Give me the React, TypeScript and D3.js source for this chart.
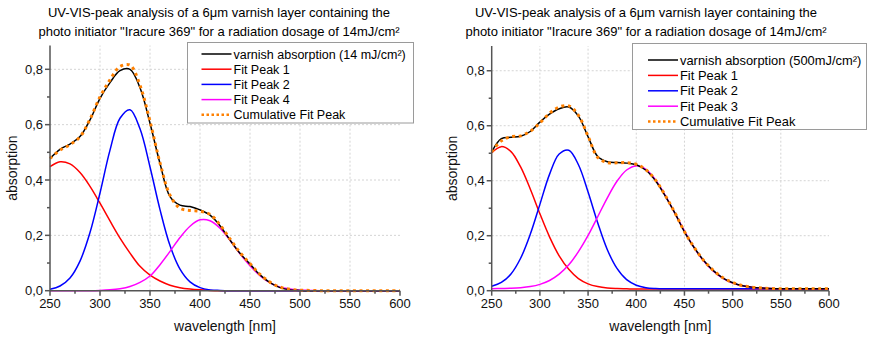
import React from 'react';
import * as d3 from 'd3';

const wavelengths = [250,260,270,280,290,300,310,320,330,340,350,360,370,380,390,400,410,420,430,440,450,460,470,480,490,500,510,520,530,540,550,560,570,580,590,600];

// left panel (14 mJ/cm²)
const leftMeasured = [0.478,0.511,0.530,0.557,0.617,0.695,0.752,0.795,0.800,0.733,0.605,0.460,0.340,0.309,0.304,0.292,0.273,0.235,0.183,0.135,0.096,0.057,0.029,0.011,0.003,0.001,0,0,0,0,0,0,0,0,0,0];
const leftPeak1 = [0.448,0.466,0.458,0.427,0.377,0.316,0.252,0.190,0.136,0.088,0.056,0.035,0.020,0.011,0.006,0.003,0.001,0,0,0,0,0,0,0,0,0,0,0,0,0,0,0,0,0,0,0];
const leftPeak2 = [0.005,0.017,0.046,0.107,0.210,0.353,0.508,0.623,0.654,0.585,0.447,0.293,0.163,0.078,0.032,0.011,0.003,0.001,0,0,0,0,0,0,0,0,0,0,0,0,0,0,0,0,0,0];
const leftPeak4 = [0,0,0,0,0,0.001,0.003,0.007,0.015,0.030,0.053,0.094,0.142,0.192,0.233,0.256,0.253,0.226,0.182,0.133,0.090,0.054,0.028,0.013,0.006,0.002,0.001,0,0,0,0,0,0,0,0,0];
const leftCumulative = [0.478,0.508,0.528,0.556,0.620,0.700,0.762,0.810,0.815,0.742,0.612,0.462,0.345,0.298,0.290,0.287,0.276,0.238,0.187,0.138,0.098,0.059,0.031,0.013,0.005,0.002,0.001,0,0,0,0,0,0,0,0,0];

// right panel (500 mJ/cm²)
const rightMeasured = [0.505,0.553,0.558,0.562,0.579,0.613,0.642,0.662,0.668,0.635,0.560,0.488,0.469,0.466,0.464,0.458,0.438,0.400,0.345,0.283,0.214,0.157,0.110,0.073,0.046,0.029,0.018,0.013,0.010,0.008,0.007,0.007,0.007,0.007,0.007,0.007];
const rightPeak1 = [0.502,0.524,0.506,0.450,0.370,0.280,0.196,0.127,0.078,0.044,0.025,0.015,0.010,0.008,0.007,0.006,0.006,0.006,0.006,0.006,0.006,0.006,0.006,0.006,0.006,0.006,0.006,0.006,0.006,0.006,0.006,0.006,0.006,0.006,0.006,0.006];
const rightPeak2 = [0.016,0.030,0.061,0.118,0.205,0.314,0.423,0.497,0.511,0.458,0.359,0.247,0.149,0.081,0.040,0.020,0.011,0.008,0.007,0.007,0.007,0.007,0.007,0.007,0.007,0.007,0.007,0.007,0.007,0.007,0.007,0.007,0.007,0.007,0.007,0.007];
const rightPeak3 = [0.007,0.008,0.009,0.011,0.015,0.023,0.037,0.060,0.094,0.142,0.201,0.269,0.338,0.398,0.439,0.454,0.441,0.403,0.347,0.282,0.217,0.157,0.108,0.071,0.045,0.028,0.018,0.013,0.010,0.008,0.007,0.007,0.007,0.007,0.007,0.007];
const rightCumulative = [0.505,0.545,0.560,0.563,0.580,0.610,0.645,0.668,0.672,0.638,0.562,0.485,0.466,0.465,0.466,0.460,0.440,0.402,0.347,0.284,0.215,0.158,0.110,0.074,0.047,0.030,0.019,0.013,0.010,0.008,0.007,0.007,0.007,0.007,0.007,0.007];

const xMajorTicks = [250,300,350,400,450,500,550,600];
const xMinorTicks = [275,325,375,425,475,525,575];
const yMajorTicks = [0,0.2,0.4,0.6,0.8];
const yMinorTicks = [0.1,0.3,0.5,0.7];

const titleLine1 = 'UV-VIS-peak analysis of a 6\u03bcm varnish layer containing the';
const titleLine2 = 'photo initiator "Iracure 369" for a radiation dosage of 14mJ/cm\u00b2';

const leftLegend = ['varnish absorption (14 mJ/cm\u00b2)','Fit Peak 1','Fit Peak 2','Fit Peak 4','Cumulative Fit Peak'];
const rightLegend = ['varnish absorption (500mJ/cm\u00b2)','Fit Peak 1','Fit Peak 2','Fit Peak 3','Cumulative Fit Peak'];

const FONT = '"Liberation Sans", Arial, sans-serif';
const ORANGE = '#FF8000';

type PanelProps = {
  x0: number; x1: number; yBottom: number; yTop: number; yMax: number;
  series: number[][];
  legendLabels: string[];
  legendBox: { x: number; y: number; w: number; h: number; first: number; step: number; lineX: number; font: number };
  titleX: number;
  yTitleX: number;
};

function Panel({ x0, x1, yBottom, yTop, yMax, series, legendLabels, legendBox, titleX, yTitleX }: PanelProps) {
  const x = d3.scaleLinear().domain([250, 600]).range([x0, x1]);
  const y = d3.scaleLinear().domain([0, yMax]).range([yBottom, yTop]);
  const line = d3.line<number>()
    .x((_, i) => x(wavelengths[i]))
    .y((d) => y(d))
    .curve(d3.curveCatmullRom.alpha(0.5));
  const colors = ['#000000', '#FF0000', '#0000FF', '#FF00FF', ORANGE];
  const axisColor = '#555';
  const fmt = (v: number) => v.toFixed(1).replace('.', ',');
  const order = [1, 2, 3, 0, 4];
  return (
    <g>
      <text x={titleX} y={17} textAnchor="middle" fontFamily={FONT} fontSize={13} fill="#000">{titleLine1}</text>
      <text x={titleX} y={36} textAnchor="middle" fontFamily={FONT} fontSize={13} fill="#000">{titleLine2}</text>
      {xMajorTicks.filter((t) => t > 250 && t < 600).map((t) => (
        <line key={'gx' + t} x1={x(t)} x2={x(t)} y1={yBottom} y2={yTop} stroke="#d4d4d4" strokeWidth={1} strokeDasharray="2 2" />
      ))}
      {yMajorTicks.filter((t) => t > 0).map((t) => (
        <line key={'gy' + t} x1={x0} x2={x1} y1={y(t)} y2={y(t)} stroke="#d4d4d4" strokeWidth={1} strokeDasharray="2 2" />
      ))}
      {order.map((si) => (
        <path key={'s' + si} d={line(series[si]) || ''} fill="none" stroke={colors[si]}
          strokeWidth={si === 4 ? 3 : 1.5}
          strokeDasharray={si === 4 ? '3 3.6' : undefined} />
      ))}
      <line x1={x0} x2={x1} y1={yBottom} y2={yBottom} stroke={axisColor} strokeWidth={1.5} />
      <line x1={x0} x2={x0} y1={yBottom} y2={yTop} stroke={axisColor} strokeWidth={1.5} />
      {xMajorTicks.map((t) => (
        <g key={'xt' + t}>
          <line x1={x(t)} x2={x(t)} y1={yBottom} y2={yBottom + 5} stroke={axisColor} strokeWidth={1.5} />
          <text x={x(t)} y={yBottom + 17.5} textAnchor="middle" fontFamily={FONT} fontSize={13} fill="#111">{t}</text>
        </g>
      ))}
      {xMinorTicks.map((t) => (
        <line key={'xm' + t} x1={x(t)} x2={x(t)} y1={yBottom} y2={yBottom + 3} stroke={axisColor} strokeWidth={1.5} />
      ))}
      {yMajorTicks.map((t) => (
        <g key={'yt' + t}>
          <line x1={x0 - 5} x2={x0} y1={y(t)} y2={y(t)} stroke={axisColor} strokeWidth={1.5} />
          <text x={x0 - 7} y={y(t) + 4.5} textAnchor="end" fontFamily={FONT} fontSize={13} fill="#111">{fmt(t)}</text>
        </g>
      ))}
      {yMinorTicks.map((t) => (
        <line key={'ym' + t} x1={x0 - 3} x2={x0} y1={y(t)} y2={y(t)} stroke={axisColor} strokeWidth={1.5} />
      ))}
      <text x={(x0 + x1) / 2} y={331} textAnchor="middle" fontFamily={FONT} fontSize={14} fill="#111">wavelength [nm]</text>
      <text transform={`translate(${yTitleX},${(yBottom + yTop) / 2}) rotate(-90)`} textAnchor="middle" fontFamily={FONT} fontSize={14} fill="#111">absorption</text>
      <rect x={legendBox.x} y={legendBox.y} width={legendBox.w} height={legendBox.h} fill="#fff" stroke="#9a9a9a" strokeWidth={1} />
      {legendLabels.map((lab, i) => {
        const cy = legendBox.first + i * legendBox.step;
        return (
          <g key={'lg' + i}>
            <line x1={legendBox.lineX} x2={legendBox.lineX + 30} y1={cy} y2={cy} stroke={colors[i]}
              strokeWidth={i === 4 ? 2.5 : 1.5} strokeDasharray={i === 4 ? '2.5 2.5' : undefined} />
            <text x={legendBox.lineX + 32} y={cy + 4.5} fontFamily={FONT} fontSize={legendBox.font} fill="#000">{lab}</text>
          </g>
        );
      })}
    </g>
  );
}

export default function App() {
  return (
    <svg width={874} height={338} style={{ position: 'absolute', left: 0, top: 0, background: '#fff' }}>
      <rect x={0} y={0} width={874} height={338} fill="#fff" />
      <Panel x0={50} x1={400} yBottom={290.7} yTop={45.5} yMax={0.886}
        series={[leftMeasured, leftPeak1, leftPeak2, leftPeak4, leftCumulative]}
        legendLabels={leftLegend}
        legendBox={{ x: 187.5, y: 42.5, w: 226, h: 80.5, first: 54, step: 15.2, lineX: 201.5, font: 12.5 }}
        titleX={219} yTitleX={17} />
      <Panel x0={491.7} x1={829} yBottom={290.7} yTop={46} yMax={0.89}
        series={[rightMeasured, rightPeak1, rightPeak2, rightPeak3, rightCumulative]}
        legendLabels={rightLegend}
        legendBox={{ x: 632.5, y: 43.5, w: 234, h: 86, first: 60, step: 15.4, lineX: 648, font: 12.9 }}
        titleX={646} yTitleX={457} />
    </svg>
  );
}
